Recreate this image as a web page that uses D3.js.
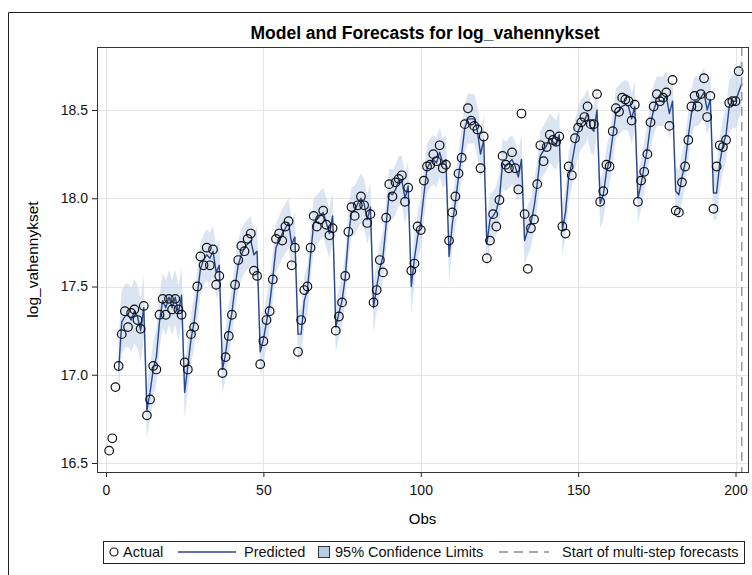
<!DOCTYPE html>
<html>
<head>
<meta charset="utf-8">
<script src="https://cdn.jsdelivr.net/npm/d3@7"></script>
<style>
  body { margin: 0; background: #fff; }
  text { font-family: "Liberation Sans", Arial, sans-serif; }
</style>
</head>
<body>
<svg id="chart" width="752" height="575"></svg>
<script>
// observed series, obs 1..201 (one row per seasonal year of 12)
const actual = [
  16.57, 16.64, 16.93, 17.05, 17.23, 17.36, 17.27, 17.35, 17.37, 17.31, 17.26, 17.39,
  16.77, 16.86, 17.05, 17.03, 17.34, 17.43, 17.34, 17.43, 17.37, 17.43, 17.37, 17.34,
  17.07, 17.03, 17.23, 17.27, 17.50, 17.67, 17.62, 17.72, 17.62, 17.71, 17.51, 17.56,
  17.01, 17.10, 17.22, 17.34, 17.51, 17.65, 17.73, 17.70, 17.77, 17.80, 17.59, 17.56,
  17.06, 17.19, 17.31, 17.36, 17.54, 17.77, 17.80, 17.76, 17.84, 17.87, 17.62, 17.72,
  17.13, 17.31, 17.48, 17.50, 17.72, 17.90, 17.84, 17.88, 17.93, 17.85, 17.79, 17.83,
  17.25, 17.33, 17.41, 17.56, 17.81, 17.95, 17.90, 17.96, 18.01, 17.96, 17.86, 17.91,
  17.41, 17.48, 17.65, 17.58, 17.89, 18.08, 18.01, 18.09, 18.11, 18.13, 17.98, 18.06,
  17.59, 17.63, 17.84, 17.82, 18.10, 18.18, 18.19, 18.25, 18.21, 18.30, 18.17, 18.19,
  17.76, 17.92, 18.01, 18.14, 18.23, 18.42, 18.51, 18.44, 18.41, 18.39, 18.17, 18.35,
  17.66, 17.76, 17.91, 17.84, 17.99, 18.24, 18.19, 18.17, 18.26, 18.17, 18.05, 18.48,
  17.91, 17.60, 17.83, 17.88, 18.08, 18.30, 18.21, 18.29, 18.36, 18.33, 18.32, 18.35,
  17.84, 17.80, 18.18, 18.13, 18.34, 18.40, 18.43, 18.46, 18.52, 18.42, 18.42, 18.59,
  17.98, 18.04, 18.19, 18.18, 18.38, 18.51, 18.49, 18.57, 18.56, 18.55, 18.44, 18.53,
  17.98, 18.10, 18.15, 18.25, 18.43, 18.52, 18.59, 18.55, 18.57, 18.60, 18.41, 18.67,
  17.93, 17.92, 18.09, 18.18, 18.33, 18.52, 18.58, 18.52, 18.59, 18.68, 18.46, 18.58,
  17.94, 18.18, 18.30, 18.29, 18.33, 18.54, 18.55, 18.55, 18.72
];

// model predictions start at obs 4 and run one step past the data
const predictedStartObs = 4;
const predicted = [
                        17.02, 17.30, 17.33, 17.34, 17.31, 17.36, 17.33, 17.25, 17.38,
  16.80, 16.90, 17.03, 17.10, 17.30, 17.42, 17.38, 17.44, 17.38, 17.44, 17.35, 17.45,
  16.90, 17.05, 17.20, 17.30, 17.45, 17.60, 17.65, 17.68, 17.66, 17.70, 17.58, 17.62,
  17.03, 17.12, 17.25, 17.35, 17.50, 17.62, 17.68, 17.72, 17.74, 17.76, 17.68, 17.70,
  17.13, 17.20, 17.30, 17.40, 17.55, 17.72, 17.76, 17.80, 17.83, 17.86, 17.74, 17.78,
  17.23, 17.23, 17.42, 17.48, 17.68, 17.86, 17.88, 17.90, 17.92, 17.86, 17.80, 17.90,
  17.27, 17.35, 17.42, 17.55, 17.78, 17.92, 17.93, 17.97, 18.00, 17.97, 17.88, 17.95,
  17.38, 17.50, 17.60, 17.67, 17.85, 18.03, 18.02, 18.05, 18.10, 18.10, 18.00, 18.07,
  17.50, 17.66, 17.78, 17.86, 18.02, 18.17, 18.20, 18.22, 18.20, 18.26, 18.20, 18.22,
  17.67, 17.85, 17.98, 18.12, 18.25, 18.40, 18.45, 18.45, 18.45, 18.38, 18.25, 18.33,
  17.74, 17.88, 17.90, 17.93, 18.00, 18.20, 18.18, 18.20, 18.22, 18.18, 18.12, 18.22,
  17.76, 17.82, 17.86, 17.95, 18.08, 18.24, 18.27, 18.30, 18.34, 18.32, 18.30, 18.36,
  17.82, 17.92, 18.12, 18.20, 18.30, 18.38, 18.42, 18.44, 18.48, 18.40, 18.38, 18.50,
  17.97, 18.02, 18.15, 18.22, 18.35, 18.48, 18.50, 18.52, 18.53, 18.52, 18.45, 18.52,
  18.00, 18.08, 18.18, 18.28, 18.42, 18.50, 18.55, 18.55, 18.55, 18.58, 18.48, 18.55,
  18.04, 18.02, 18.12, 18.20, 18.35, 18.48, 18.55, 18.55, 18.57, 18.60, 18.50, 18.56,
  18.03, 18.03, 18.20, 18.30, 18.36, 18.52, 18.55, 18.55, 18.60, 18.65
];

// half width of the 95% band, read per seasonal year (wider while the model warms up)
const ciHalfWidthByYear = [0.18, 0.155, 0.145, 0.14, 0.14, 0.14, 0.14, 0.14, 0.14,
                           0.14, 0.14, 0.14, 0.14, 0.14, 0.14, 0.14, 0.15];

const forecastStartObs = 202;
const xTicks = [0, 50, 100, 150, 200];
const yTicks = [16.5, 17.0, 17.5, 18.0, 18.5];

const lineColor = "#28478f";
const bandColor = "#c3d4eb";

const svg = d3.select("#chart");
const W = 752, H = 575;
const plot = { left: 97, right: 748, top: 47, bottom: 472 };

const x = d3.scaleLinear().domain([-2.86, 203.97]).range([plot.left, plot.right]);
const y = d3.scaleLinear().domain([16.449, 18.857]).range([plot.bottom, plot.top]);

const actualPts = actual.map((v, i) => ({ obs: i + 1, value: v }));
const predPts = predicted.map((v, i) => {
  const obs = i + predictedStartObs;
  const hw = ciHalfWidthByYear[Math.floor((obs - 1) / 12)];
  return { obs, value: v, lo: v - hw, hi: v + hw };
});

// outer frame
svg.append("path")
  .attr("d", `M8.5,${H} V12.5 H${W}`)
  .attr("fill", "none").attr("stroke", "#222").attr("stroke-width", 1);

svg.append("text")
  .attr("x", 425).attr("y", 39)
  .attr("text-anchor", "middle")
  .attr("font-size", 17.5).attr("font-weight", "bold")
  .text("Model and Forecasts for log_vahennykset");

svg.append("clipPath").attr("id", "plotclip")
  .append("rect")
  .attr("x", plot.left).attr("y", plot.top)
  .attr("width", plot.right - plot.left).attr("height", plot.bottom - plot.top);

// grid
const grid = svg.append("g").attr("stroke", "#e4e4e4").attr("stroke-width", 1);
grid.selectAll(".gx").data(xTicks).join("line")
  .attr("x1", d => Math.round(x(d)) + 0.5).attr("x2", d => Math.round(x(d)) + 0.5)
  .attr("y1", plot.top).attr("y2", plot.bottom);
grid.selectAll(".gy").data(yTicks).join("line")
  .attr("x1", plot.left).attr("x2", plot.right)
  .attr("y1", d => Math.round(y(d)) + 0.5).attr("y2", d => Math.round(y(d)) + 0.5);

const g = svg.append("g").attr("clip-path", "url(#plotclip)");

g.append("path")
  .datum(predPts)
  .attr("fill", bandColor).attr("fill-opacity", 0.62)
  .attr("d", d3.area().x(d => x(d.obs)).y0(d => y(d.lo)).y1(d => y(d.hi)));

g.append("path")
  .datum(predPts)
  .attr("fill", "none").attr("stroke", lineColor).attr("stroke-width", 1.4)
  .attr("stroke-linejoin", "round")
  .attr("d", d3.line().x(d => x(d.obs)).y(d => y(d.value)));

g.selectAll("circle.actual").data(actualPts).join("circle")
  .attr("class", "actual")
  .attr("cx", d => x(d.obs)).attr("cy", d => y(d.value))
  .attr("r", 4.3)
  .attr("fill", "none").attr("stroke", "#111").attr("stroke-width", 1.2);

g.append("line")
  .attr("x1", x(forecastStartObs)).attr("x2", x(forecastStartObs))
  .attr("y1", plot.top).attr("y2", plot.bottom)
  .attr("stroke", "#8a8a8a").attr("stroke-width", 1.3)
  .attr("stroke-dasharray", "9,6");

// axes
const yAxis = svg.append("g")
  .attr("transform", `translate(${plot.left},0)`)
  .call(d3.axisLeft(y).tickValues(yTicks).tickFormat(d3.format(".1f"))
    .tickSize(5).tickPadding(4));
const xAxis = svg.append("g")
  .attr("transform", `translate(0,${plot.bottom})`)
  .call(d3.axisBottom(x).tickValues(xTicks).tickSize(5).tickPadding(8));
[xAxis, yAxis].forEach(a => {
  a.select(".domain").remove();
  a.selectAll(".tick line").attr("stroke", "#222");
  a.selectAll(".tick text").attr("font-size", 14)
    .attr("font-family", "'Liberation Sans', Arial, sans-serif").attr("fill", "#111");
});

svg.append("rect")
  .attr("x", plot.left + 0.5).attr("y", plot.top + 0.5)
  .attr("width", plot.right - plot.left).attr("height", plot.bottom - plot.top)
  .attr("fill", "none").attr("stroke", "#333");

svg.append("text")
  .attr("transform", `translate(33,${(plot.top + plot.bottom) / 2}) rotate(-90)`)
  .attr("text-anchor", "middle").attr("dy", "0.35em")
  .attr("font-size", 15.5).text("log_vahennykset");

svg.append("text")
  .attr("x", (plot.left + plot.right) / 2).attr("y", 524)
  .attr("text-anchor", "middle").attr("font-size", 15).text("Obs");

// legend
const lg = svg.append("g");
const ly = 552;
lg.append("rect").attr("x", 103.5).attr("y", 541.5).attr("width", 641).attr("height", 22)
  .attr("fill", "#fff").attr("stroke", "#222");
lg.append("circle").attr("cx", 114).attr("cy", ly).attr("r", 4)
  .attr("fill", "none").attr("stroke", "#111").attr("stroke-width", 1.2);
lg.append("line").attr("x1", 178).attr("x2", 236).attr("y1", ly).attr("y2", ly)
  .attr("stroke", lineColor).attr("stroke-width", 1.5);
lg.append("rect").attr("x", 318.5).attr("y", ly - 5.5).attr("width", 11).attr("height", 11)
  .attr("fill", "#b9cce6").attr("stroke", "#333");
lg.append("line").attr("x1", 499).attr("x2", 549).attr("y1", ly).attr("y2", ly)
  .attr("stroke", "#8a8a8a").attr("stroke-width", 1.3).attr("stroke-dasharray", "9,6");
const legendText = [
  { label: "Actual", x: 123 },
  { label: "Predicted", x: 244 },
  { label: "95% Confidence Limits", x: 335 },
  { label: "Start of multi-step forecasts", x: 562 }
];
lg.selectAll("text").data(legendText).join("text")
  .attr("x", d => d.x).attr("y", ly + 5)
  .attr("font-size", 14.5).attr("fill", "#111")
  .text(d => d.label);
</script>
</body>
</html>
